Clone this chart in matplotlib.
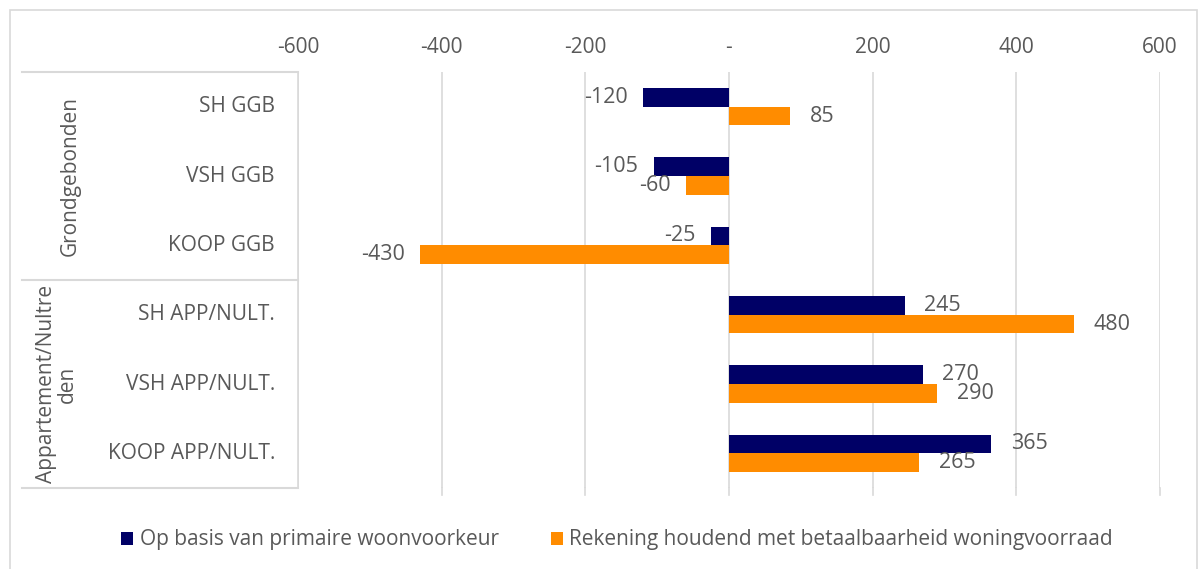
import matplotlib
matplotlib.use("Agg")
import matplotlib.pyplot as plt
import matplotlib.transforms as mtransforms
from matplotlib.patches import Rectangle

# data
categories = ["SH GGB", "VSH GGB", "KOOP GGB",
              "SH APP/NULT.", "VSH APP/NULT.", "KOOP APP/NULT."]
groups = ["Grondgebonden", "Appartement/Nultre\nden"]
primair = [-120, -105, -25, 245, 270, 365]
betaalbaar = [85, -60, -430, 480, 290, 265]
ticks = [-600, -400, -200, 0, 200, 400, 600]
series_names = ["Op basis van primaire woonvoorkeur",
                "Rekening houdend met betaalbaarheid woningvoorraad"]

navy = "#000066"
orange = "#FF8C00"
grey_txt = "#595959"
grid_c = "#D9D9D9"

plt.rcParams['font.family'] = ['Open Sans', 'DejaVu Sans']

W, H = 1200, 569
fig = plt.figure(figsize=(W / 100, H / 100), dpi=100)

# outer chart frame
fig.patches.append(Rectangle((10 / W, -0.05), 1187 / W, 1 - 10 / H + 0.05,
                             transform=fig.transFigure, fill=False,
                             edgecolor=grid_c, linewidth=1.2))

# plot area
x0, x1 = 298, 1160
y0, y1 = 72, 488
ax = fig.add_axes([x0 / W, 1 - y1 / H, (x1 - x0) / W, (y1 - y0) / H])

ypos = list(range(len(categories)))
h = 0.27
ax.barh([y - h / 2 for y in ypos], primair, height=h, color=navy,
        label=series_names[0], zorder=3)
ax.barh([y + h / 2 for y in ypos], betaalbaar, height=h, color=orange,
        label=series_names[1], zorder=3)

# data labels
for y, v in zip(ypos, primair):
    off = 14 if v > 0 else -11
    ax.annotate(str(v), (v, y - h / 2), xytext=(off, 0), textcoords="offset points",
                ha="left" if v > 0 else "right", va="center",
                fontsize=15.5, color=grey_txt)
for y, v in zip(ypos, betaalbaar):
    off = 14 if v > 0 else -11
    ax.annotate(str(v), (v, y + h / 2), xytext=(off, 0), textcoords="offset points",
                ha="left" if v > 0 else "right", va="center",
                fontsize=15.5, color=grey_txt)

ax.set_xlim(-600, 600)
ax.set_ylim(len(categories) - 0.5, -0.5)
ax.set_xticks(ticks)
ax.set_xticklabels(["-" if t == 0 else str(t) for t in ticks])
ax.xaxis.tick_top()
ax.tick_params(axis="x", length=0, pad=10, labelsize=15, labelcolor=grey_txt)
ax.set_yticks([])
for s in ax.spines.values():
    s.set_visible(False)
ax.spines["left"].set_visible(True)
ax.spines["left"].set_color(grid_c)
ax.spines["left"].set_linewidth(1.2)
ax.grid(axis="x", color=grid_c, linewidth=1.2, zorder=0)
for t in ticks[1:]:
    ax.plot([t, t], [len(categories) - 0.5, len(categories) - 0.4], color=grid_c,
            linewidth=1.2, clip_on=False, zorder=0)

# multi-level category axis
tr = mtransforms.blended_transform_factory(fig.transFigure, ax.transData)
for yl in [-0.5, 2.5, 5.5]:
    ax.plot([22 / W, x0 / W], [yl, yl], color=grid_c, linewidth=1.5,
            transform=tr, clip_on=False)
for y, c in zip(ypos, categories):
    ax.text(275 / W, y, c, transform=tr, ha="right", va="center",
            fontsize=15, color=grey_txt)
ax.text(70 / W, 1, groups[0], transform=tr, ha="center", va="center",
        rotation=90, fontsize=15, color=grey_txt)
ax.text(57 / W, 4, groups[1], transform=tr, ha="center", va="center",
        rotation=90, fontsize=15, color=grey_txt, multialignment="center",
        linespacing=1.0)

# legend
fig.legend(loc="center", bbox_to_anchor=(617 / W, 1 - 540 / H), ncol=2,
           frameon=False, fontsize=15, labelcolor=grey_txt,
           handlelength=0.6, handleheight=0.6, handletextpad=0.3,
           columnspacing=2.5)

fig.savefig("out.png", dpi=100)
